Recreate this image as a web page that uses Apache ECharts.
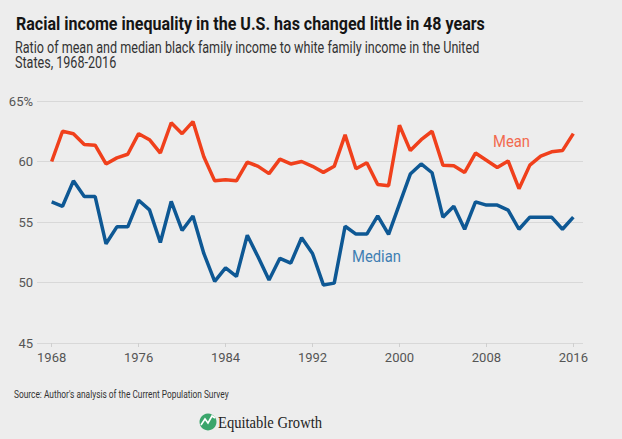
<!DOCTYPE html>
<html>
<head>
<meta charset="utf-8">
<script src="https://cdn.jsdelivr.net/npm/echarts@6/dist/echarts.min.js"></script>
<style>
html,body{margin:0;padding:0;background:#ededed;}
#chart{width:622px;height:439px;}
</style>
</head>
<body>
<div id="chart"></div>
<script>
const years = [1968,1969,1970,1971,1972,1973,1974,1975,1976,1977,1978,1979,1980,1981,1982,1983,1984,1985,1986,1987,1988,1989,1990,1991,1992,1993,1994,1995,1996,1997,1998,1999,2000,2001,2002,2003,2004,2005,2006,2007,2008,2009,2010,2011,2012,2013,2014,2015,2016];
const meanValues = [60.0,62.5,62.3,61.4,61.35,59.8,60.3,60.6,62.3,61.8,60.7,63.2,62.3,63.3,60.4,58.4,58.5,58.4,59.95,59.6,59.0,60.2,59.8,60.0,59.6,59.1,59.6,62.2,59.4,59.9,58.1,58.0,63.0,60.9,61.8,62.5,59.7,59.65,59.1,60.7,60.1,59.5,60.05,57.75,59.7,60.45,60.8,60.9,62.3];
const medianValues = [56.66,56.3,58.4,57.1,57.1,53.2,54.6,54.6,56.8,56.0,53.3,56.7,54.3,55.5,52.4,50.1,51.2,50.5,53.9,52.1,50.2,52.0,51.6,53.7,52.4,49.8,49.95,54.65,54.0,54.0,55.5,53.97,56.47,58.96,59.8,59.07,55.4,56.3,54.4,56.66,56.4,56.4,55.98,54.4,55.4,55.4,55.4,54.4,55.4];
const xTicks = [1968,1976,1984,1992,2000,2008,2016];
const yTicks = [45,50,55,60,65];
const titleText = "Racial income inequality in the U.S. has changed little in 48 years";
const subtitleLine1 = "Ratio of mean and median black family income to white family income in the United";
const subtitleLine2 = "States, 1968-2016";
const sourceText = "Source: Author's analysis of the Current Population Survey";
const brandText = "Equitable Growth";

const measureCtx = document.createElement('canvas').getContext('2d');
function fitScale(text, font, target){
  measureCtx.font = font;
  const w = measureCtx.measureText(text).width;
  return w > 0 ? target / w : 1;
}
function fitText(text, font, x, y, target, fill, scaleOverride){
  const s = scaleOverride !== undefined ? scaleOverride : fitScale(text, font, target);
  return {type:'text', x:x, y:y, scaleX:s, scaleY:1,
    style:{text:text, fill:fill, font:font, align:'left', verticalAlign:'middle'}};
}

const titleFont = 'bold 19px Roboto, sans-serif';
const subFont = '16px Roboto, sans-serif';
const subScale = fitScale(subtitleLine1, subFont, 465);
const srcFont = '10px Roboto, sans-serif';
const lblFont = '16px Roboto, sans-serif';
const brandFont = '16px "Liberation Serif", serif';
const axisFont = 'Roboto, sans-serif';

const chart = echarts.init(document.getElementById('chart'), null, {renderer:'svg'});
const mk = (arr) => years.map((y,i)=>[y,arr[i]]);
chart.setOption({
  backgroundColor:'#ededed',
  animation:false,
  grid:{left:37,right:39,top:101,bottom:96,containLabel:false},
  xAxis:{
    type:'value', min:1966.65, max:2016.89,
    axisLine:{show:false},
    splitLine:{show:false},
    axisTick:{show:true, customValues:xTicks, length:4, lineStyle:{color:'#cfcfcf',width:1}},
    axisLabel:{customValues:xTicks, color:'#555', fontSize:13, fontFamily:axisFont, margin:8, formatter:v=>String(v)}
  },
  yAxis:{
    type:'value', min:45, max:65, interval:5,
    axisLine:{show:false}, axisTick:{show:false},
    splitLine:{lineStyle:{color:'#d8d8d8',width:1}},
    axisLabel:{color:'#555', fontSize:13, fontFamily:axisFont, margin:4, formatter:v=> v===65 ? '65%' : String(v)}
  },
  series:[
    {name:'Mean', type:'line', data:mk(meanValues), symbol:'none', lineStyle:{color:'#f0401c', width:3.5}, z:3},
    {name:'Median', type:'line', data:mk(medianValues), symbol:'none', lineStyle:{color:'#0e5894', width:3.5}, z:3}
  ],
  graphic:[
    fitText(titleText, titleFont, 16, 23.5, 469, '#151515'),
    fitText(subtitleLine1, subFont, 15, 47.5, 465, '#333', subScale),
    fitText(subtitleLine2, subFont, 15, 62.5, 0, '#333', subScale),
    fitText('Mean', lblFont, 493, 142, 37, '#f26a4f'),
    fitText('Median', lblFont, 352, 257, 49, '#3f7fb3'),
    fitText(sourceText, srcFont, 14, 394, 215, '#333'),
    {type:'circle', shape:{cx:208, cy:422, r:8.5}, style:{fill:'#3aa56b'}},
    {type:'polyline', shape:{points:[[201,425],[205,419],[208,423],[212,416],[215,418]]}, style:{stroke:'#fff', lineWidth:1.6, fill:null}},
    fitText(brandText, brandFont, 218, 422, 104, '#222')
  ]
});
</script>
</body>
</html>
